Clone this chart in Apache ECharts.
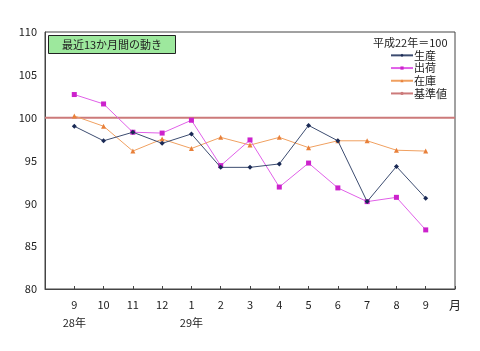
<!DOCTYPE html>
<html>
<head>
<meta charset="utf-8">
<script src="https://cdn.jsdelivr.net/npm/echarts@6/dist/echarts.min.js"></script>
<style>
  html, body { margin: 0; padding: 0; background: #fff; }
  #chart { width: 480px; height: 351px; }
</style>
</head>
<body>
<div id="chart"></div>
<script>
// 月ラベル（28年9月〜29年9月）
const months = ['9', '10', '11', '12', '1', '2', '3', '4', '5', '6', '7', '8', '9'];
const years = ['28年', '', '', '', '29年', '', '', '', '', '', '', '', ''];

// 指数（平成22年＝100）
const production = [99.0, 97.3, 98.3, 97.0, 98.1, 94.2, 94.2, 94.6, 99.1, 97.3, 90.2, 94.3, 90.6];
const shipments = [102.7, 101.6, 98.3, 98.2, 99.7, 94.4, 97.4, 91.9, 94.7, 91.8, 90.2, 90.7, 86.9];
const inventory = [100.2, 99.0, 96.1, 97.5, 96.4, 97.7, 96.8, 97.7, 96.5, 97.3, 97.3, 96.2, 96.1];
const baseValue = 100;

const font = '"Noto Sans CJK JP", sans-serif';
const xMax = months.length + 1;

const toPoints = arr => arr.map((v, i) => [i + 1, v]);

const myChart = echarts.init(document.getElementById('chart'));

const option = {
  animation: false,
  textStyle: { fontFamily: font },
  grid: {
    left: 45, right: 25, top: 32, bottom: 62,
    show: true,
    borderColor: '#444',
    borderWidth: 1
  },
  xAxis: {
    type: 'value',
    min: 0,
    max: xMax,
    interval: 1,
    splitLine: { show: false },
    axisLine: { lineStyle: { color: '#444' } },
    axisTick: { inside: true, length: 3, lineStyle: { color: '#444' } },
    axisLabel: {
      color: '#222',
      fontSize: 11,
      margin: 7,
      lineHeight: 18,
      formatter: v => {
        const i = v - 1;
        if (i < 0 || i >= months.length) return '';
        return years[i] ? months[i] + '\n' + years[i] : months[i];
      }
    }
  },
  yAxis: {
    type: 'value',
    min: 80,
    max: 110,
    interval: 5,
    splitLine: { show: false },
    axisLine: { show: true, lineStyle: { color: '#444' } },
    axisTick: { show: false },
    axisLabel: { color: '#222', fontSize: 11, margin: 8 }
  },
  legend: {
    orient: 'vertical',
    left: 385,
    top: 44,
    itemWidth: 22,
    itemHeight: 4,
    itemGap: 0,
    textStyle: { fontSize: 11, color: '#222', lineHeight: 12.7, padding: [0, 0, 0, -4] },
    data: ['生産', '出荷', '在庫', '基準値']
  },
  graphic: [
    {
      type: 'group',
      left: 48,
      top: 35,
      children: [
        {
          type: 'rect',
          shape: { x: 0, y: 0, width: 127, height: 18 },
          style: { fill: '#9de89d', stroke: '#222', lineWidth: 1 }
        },
        {
          type: 'text',
          x: 63.5,
          y: 9,
          style: {
            text: '最近13か月間の動き',
            fontFamily: font,
            fontSize: 11,
            fill: '#222',
            align: 'center',
            verticalAlign: 'middle'
          }
        }
      ]
    },
    {
      type: 'text',
      x: 373,
      y: 43,
      style: {
        text: '平成22年＝100',
        fontFamily: font,
        fontSize: 11,
        fill: '#222',
        verticalAlign: 'middle'
      }
    },
    {
      type: 'text',
      x: 455,
      y: 305,
      style: {
        text: '月',
        fontFamily: font,
        fontSize: 12,
        fill: '#222',
        align: 'center',
        verticalAlign: 'middle'
      }
    }
  ],
  series: [
    {
      name: '基準値',
      type: 'line',
      data: [[0, baseValue], [xMax, baseValue]],
      showSymbol: false,
      symbol: 'none',
      lineStyle: { color: '#cc7a7a', width: 2 },
      itemStyle: { color: '#cc7a7a' },
      z: 1
    },
    {
      name: '生産',
      type: 'line',
      data: toPoints(production),
      symbol: 'diamond',
      symbolSize: 5,
      lineStyle: { color: '#3c4c70', width: 1 },
      itemStyle: { color: '#1a2a55' },
      z: 4
    },
    {
      name: '出荷',
      type: 'line',
      data: toPoints(shipments),
      symbol: 'rect',
      symbolSize: 5,
      lineStyle: { color: '#e060e8', width: 1 },
      itemStyle: { color: '#cc22cc' },
      z: 3
    },
    {
      name: '在庫',
      type: 'line',
      data: toPoints(inventory),
      symbol: 'triangle',
      symbolSize: 5,
      lineStyle: { color: '#f0a060', width: 1 },
      itemStyle: { color: '#e8803a' },
      z: 2
    }
  ]
};

myChart.setOption(option);
</script>
</body>
</html>
